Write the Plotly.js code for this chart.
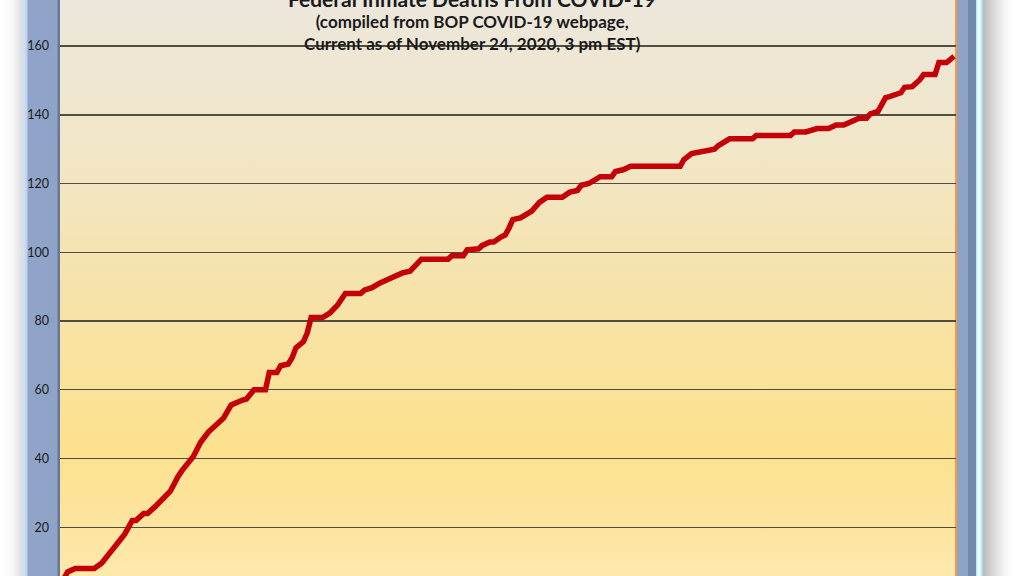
<!DOCTYPE html>
<html>
<head>
<meta charset="utf-8">
<script src="https://cdn.plot.ly/plotly-3.0.1.min.js"></script>
<style>
  html, body { margin: 0; padding: 0; background: #ffffff; }
  #stage { position: relative; width: 1031px; height: 576px; overflow: hidden; background: #ffffff; }
  .layer { position: absolute; top: 0; height: 576px; }
  #lshadow { left: 0; width: 23px; background: linear-gradient(to right, #ffffff 0%, #f7f7f7 55%, #dcdcdc 100%); }
  #lborder { left: 23px; width: 37px;
    background: linear-gradient(to right, #d3e3fa 0px, #bcd0ee 4px, #8fa4c8 5px, #8ea3c6 34px, #66779a 35px, #66779a 37px); }
  #plotbg { left: 60px; width: 896px;
    background: linear-gradient(to bottom, #ece7dc 0%, #f1e6c8 25%, #f6e3ab 50%, #fce18e 78%, #fde4a0 92%, #fee9ad 100%); }
  #rborder { left: 955px; width: 28px;
    background: linear-gradient(to right, #f49a45 0px, #f49a45 2px, #8ea3c6 2px, #8ea3c6 13px, #7289ab 13px, #7289ab 21px, #a9dff4 21px, #f0fdff 23px, #f0fdff 25px, #a6dcf2 27px, #a6dcf2 28px); }
  #rshadow { left: 983px; width: 30px; background: linear-gradient(to right, #b9b9b9 0%, #d9d9d9 35%, #f3f3f3 70%, #ffffff 100%); }
  #chart { position: absolute; left: 0; top: 0; width: 1031px; height: 576px; }
</style>
</head>
<body>
<div id="stage">
  <div class="layer" id="lshadow"></div>
  <div class="layer" id="lborder"></div>
  <div class="layer" id="plotbg"></div>
  <div class="layer" id="rborder"></div>
  <div class="layer" id="rshadow"></div>
  <div id="chart"></div>
</div>
<script>
// Cumulative federal inmate deaths from COVID-19
const dates = [
  "2020-04-03","2020-04-05","2020-04-07","2020-04-12","2020-04-14","2020-04-16","2020-04-19","2020-04-20",
  "2020-04-22","2020-04-23","2020-04-25","2020-04-26","2020-04-28","2020-04-30","2020-05-02","2020-05-04",
  "2020-05-05","2020-05-08","2020-05-09","2020-05-10","2020-05-12","2020-05-14","2020-05-16","2020-05-18",
  "2020-05-19","2020-05-21","2020-05-22","2020-05-24","2020-05-27","2020-05-28","2020-05-30","2020-05-31",
  "2020-06-02","2020-06-03","2020-06-04","2020-06-06","2020-06-07","2020-06-08","2020-06-11","2020-06-13",
  "2020-06-15","2020-06-16","2020-06-17","2020-06-21","2020-06-22","2020-06-24","2020-06-25","2020-06-26",
  "2020-06-28","2020-06-30","2020-07-02","2020-07-04","2020-07-07","2020-07-14","2020-07-15","2020-07-18",
  "2020-07-19","2020-07-22","2020-07-23","2020-07-25","2020-07-26","2020-07-28","2020-07-29","2020-07-30",
  "2020-07-31","2020-08-02","2020-08-05","2020-08-07","2020-08-08","2020-08-09","2020-08-13","2020-08-15",
  "2020-08-17","2020-08-18","2020-08-20","2020-08-22","2020-08-23","2020-08-26","2020-08-27","2020-08-29",
  "2020-08-31","2020-09-13","2020-09-14","2020-09-16","2020-09-18","2020-09-20","2020-09-22","2020-09-23",
  "2020-09-26","2020-10-02","2020-10-03","2020-10-12","2020-10-13","2020-10-16","2020-10-19","2020-10-22",
  "2020-10-24","2020-10-26","2020-10-28","2020-10-30","2020-11-01","2020-11-02","2020-11-04","2020-11-06",
  "2020-11-07","2020-11-10","2020-11-11","2020-11-13","2020-11-15","2020-11-16","2020-11-19","2020-11-20",
  "2020-11-22","2020-11-24"
];
const deaths = [
  3, 7, 8, 8, 9.6, 12.5, 17, 18,
  22, 22, 24, 24, 26, 28.5, 30.5, 34.7,
  36.4, 40.5, 42.5, 44.8, 47.7, 49.8, 51.8, 55.6,
  56.2, 57, 57.3, 60, 60, 65, 65, 67,
  67.5, 69.3, 72.2, 74, 76.6, 81, 81, 82.4,
  84.7, 86.5, 88, 88, 89, 89.7, 90.5, 91,
  92, 93, 94, 94.5, 98, 98, 99, 99,
  100.7, 101, 102, 103, 103, 104.5, 105, 107,
  109.5, 110, 112, 114.5, 115.5, 116, 116, 117.5,
  118, 119.5, 120, 121.5, 122, 122, 123.5, 124,
  125, 125, 127, 128.7, 129, 129.7, 130, 131,
  133, 133, 134, 134, 135, 135, 136, 136,
  137, 137, 138, 139, 139, 140.3, 141, 145,
  145.3, 146.4, 148, 148.2, 150.2, 151.7, 151.7, 155.2,
  155.2, 157
];
const yTicks = [20, 40, 60, 80, 100, 120, 140, 160];
const yTickLabels = ["20", "40", "60", "80", "100", "120", "140", "160"];
const chartTitle = "Federal Inmate Deaths From COVID-19";
const subTitle = "(compiled from BOP COVID-19 webpage,<br>Current as of November 24, 2020, 3 pm EST)";

const trace = {
  x: dates, y: deaths, type: "scatter", mode: "lines",
  line: { color: "#c40008", width: 5.5, shape: "linear" },
  hoverinfo: "x+y", showlegend: false
};

const layout = {
  width: 1031, height: 576,
  margin: { l: 60, r: 75, t: 0, b: 0, pad: 0 },
  paper_bgcolor: "rgba(0,0,0,0)",
  plot_bgcolor: "rgba(0,0,0,0)",
  font: { family: "Lato, 'Open Sans', sans-serif", color: "#1a1a1a" },
  title: {
    text: "<b>" + chartTitle + "</b>",
    font: { family: "Lato, sans-serif", size: 21, color: "#1a1a1a" },
    xref: "container", x: 472 / 1031, xanchor: "center",
    yref: "container", y: 1.012, yanchor: "middle"
  },
  xaxis: {
    type: "date", range: ["2020-04-03", "2020-11-24 12:00"],
    showgrid: false, zeroline: false, showline: false, showticklabels: false, ticks: ""
  },
  yaxis: {
    range: [5.82, 173.4],
    tickmode: "array", tickvals: yTicks, ticktext: yTickLabels,
    showgrid: true, gridcolor: "#4f4d40", gridwidth: 1.4,
    zeroline: false, showline: false, ticks: "",
    ticklabelstandoff: 10,
    tickfont: { family: "Lato, sans-serif", size: 12.5, color: "#1a1a1a" }
  },
  annotations: [{
    text: "<b>" + subTitle + "</b>",
    xref: "paper", yref: "paper", x: (472 - 60) / 896, y: 1,
    xanchor: "center", yanchor: "top", yshift: -9,
    showarrow: false, align: "center",
    font: { family: "Lato, sans-serif", size: 17, color: "#1a1a1a" }
  }]
};

Plotly.newPlot("chart", [trace], layout, { displayModeBar: false, staticPlot: true });
</script>
</body>
</html>
